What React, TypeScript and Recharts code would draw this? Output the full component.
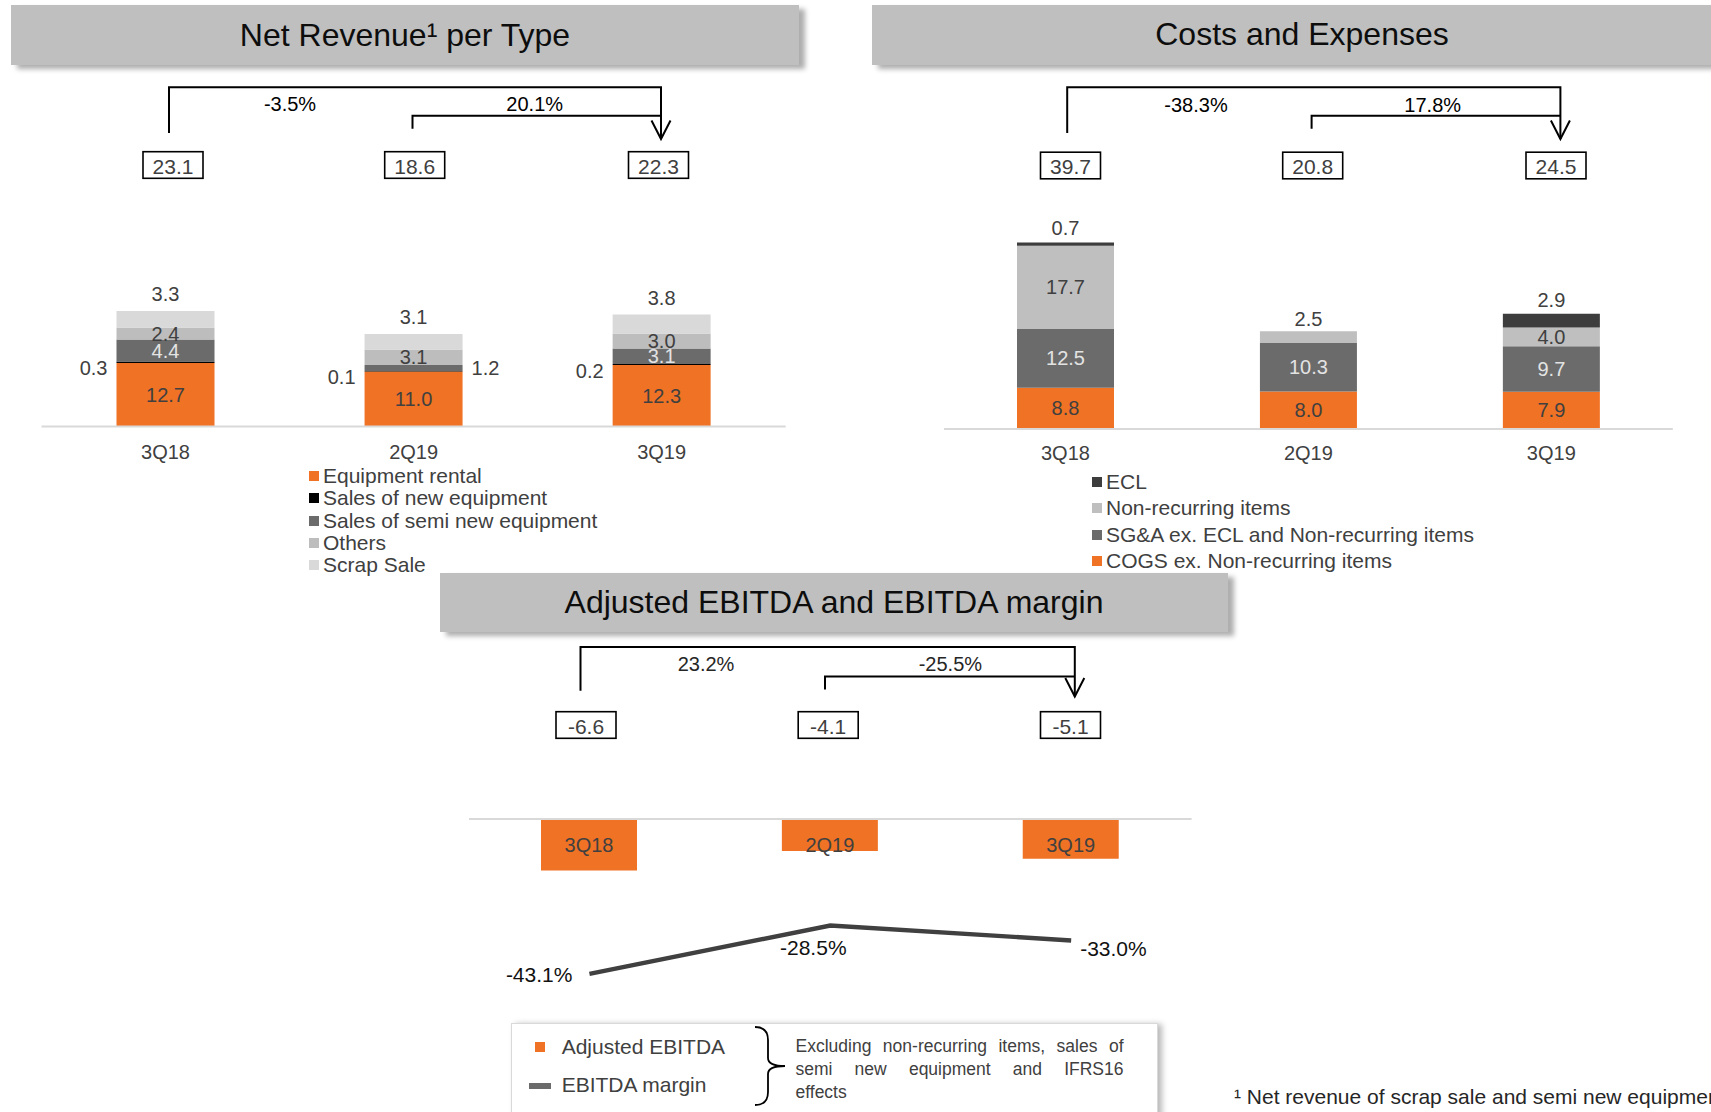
import React from 'react';
import { BarChart, Bar, XAxis, YAxis, LabelList, ComposedChart, Line, ReferenceLine } from 'recharts';

const FONT = '"Liberation Sans", Arial, sans-serif';
const TEXT = '#404040';
const LIGHT_TEXT = '#e3e3e3';
const ORANGE = '#F07224';

const quarters = ['3Q18', '2Q19', '3Q19'];

// Net revenue per type (R$ mn)
const equipmentRental = [12.7, 11.0, 12.3];
const newEquipmentSales = [0.3, 0.1, 0.2];
const semiNewSales = [4.4, 1.2, 3.1];
const otherRevenue = [2.4, 3.1, 3.0];
const scrapSales = [3.3, 3.1, 3.8];
const revenueTotals = [23.1, 18.6, 22.3];
const revenueChanges = ['-3.5%', '20.1%'];

// Costs and expenses (R$ mn)
const cogsExNonRecurring = [8.8, 8.0, 7.9];
const sgaExEclNonRecurring = [12.5, 10.3, 9.7];
const nonRecurringItems = [17.7, 2.5, 4.0];
const eclCosts = [0.7, 0, 2.9];
const costTotals = [39.7, 20.8, 24.5];
const costChanges = ['-38.3%', '17.8%'];

// Adjusted EBITDA (R$ mn) and EBITDA margin (%)
const adjustedEbitda = [-6.6, -4.1, -5.1];
const ebitdaMargin = [-43.1, -28.5, -33.0];
const ebitdaChanges = ['23.2%', '-25.5%'];

const ebitdaNote = ['Excluding non-recurring items, sales of', 'semi new equipment and IFRS16', 'effects'];

const revenueRows = quarters.map((quarter, i) => ({
  quarter,
  rental: equipmentRental[i],
  newEq: newEquipmentSales[i],
  semiNew: semiNewSales[i],
  others: otherRevenue[i],
  scrap: scrapSales[i],
}));

const costRows = quarters.map((quarter, i) => ({
  quarter,
  cogs: cogsExNonRecurring[i],
  sga: sgaExEclNonRecurring[i],
  nonRec: nonRecurringItems[i],
  ecl: eclCosts[i],
}));

const ebitdaRows = quarters.map((quarter, i) => ({
  quarter,
  ebitda: adjustedEbitda[i],
  margin: ebitdaMargin[i],
}));

const revenueLegend = [
  { name: 'Equipment rental', color: ORANGE },
  { name: 'Sales of new equipment', color: '#000000' },
  { name: 'Sales of semi new equipment', color: '#6b6b6b' },
  { name: 'Others', color: '#bdbdbd' },
  { name: 'Scrap Sale', color: '#d9d9d9' },
];

const costLegend = [
  { name: 'ECL', color: '#3d3d3d' },
  { name: 'Non-recurring items', color: '#bfbfbf' },
  { name: 'SG&A ex. ECL and Non-recurring items', color: '#6b6b6b' },
  { name: 'COGS ex. Non-recurring items', color: ORANGE },
];

// label lists are keyed on "quarter", so the label value tells which row it is
// (zero-height bars get dropped, which shifts the plain index)
const rowIndex = (p: any) => {
  if (typeof p.value === 'string' && quarters.includes(p.value)) return quarters.indexOf(p.value);
  const q = p.payload?.quarter;
  return q !== undefined ? quarters.indexOf(q) : p.index;
};

// rectangle of a bar segment, whichever way recharts hands it over
const segmentBox = (p: any) => {
  const vb = p.viewBox && typeof p.viewBox.width === 'number' ? p.viewBox : p;
  const x = Number(vb.x);
  const y = Number(vb.y);
  const w = Number(vb.width);
  const h = Number(vb.height);
  return { x, w, top: Math.min(y, y + h), h: Math.abs(h) };
};

const Txt = ({ x, y, fill = TEXT, anchor = 'middle', size = 20, children }: any) => (
  <text
    x={x}
    y={y}
    textAnchor={anchor}
    dominantBaseline="central"
    fontSize={size}
    fontFamily={FONT}
    fill={fill}
  >
    {children}
  </text>
);

type Place = 'inside' | 'left' | 'above' | 'insideOrRight' | 'insideOrAbove';

// stacked labels show the segment's own value, not the running stack total
const stackLabel = (values: number[], place: Place, insideFill: string, aboveGap: number) => (p: any) => {
  const v = values[rowIndex(p)];
  if (!v) return null;
  const b = segmentBox(p);
  const cx = b.x + b.w / 2;
  const cy = b.top + b.h / 2;
  const s = v.toFixed(1);
  if (place === 'left') return <Txt x={b.x - 9} y={cy + 6} anchor="end">{s}</Txt>;
  if (place === 'above') return <Txt x={cx} y={b.top - aboveGap}>{s}</Txt>;
  if (place === 'insideOrRight' && b.h < 15)
    return <Txt x={b.x + b.w + 9} y={cy} anchor="start">{s}</Txt>;
  if (place === 'insideOrAbove' && b.h < 15) return <Txt x={cx} y={b.top - aboveGap}>{s}</Txt>;
  return <Txt x={cx} y={cy} fill={insideFill}>{s}</Txt>;
};

const marginLabelOffsets = [
  { dx: -17, dy: 1, anchor: 'end' },
  { dx: -17, dy: 22, anchor: 'middle' },
  { dx: 9, dy: 8, anchor: 'start' },
];

const marginLabel = (p: any) => {
  const vb = p.viewBox && typeof p.viewBox.x === 'number' ? p.viewBox : p;
  const i = rowIndex(p);
  const o = marginLabelOffsets[i] ?? marginLabelOffsets[0];
  return (
    <Txt x={Number(vb.x) + o.dx} y={Number(vb.y) + o.dy} anchor={o.anchor} size={21} fill="#111">
      {`${ebitdaMargin[i].toFixed(1)}%`}
    </Txt>
  );
};

const quarterInBar = (p: any) => {
  const b = segmentBox(p);
  return <Txt x={b.x + b.w / 2} y={b.top + 25.5} size={20}>{quarters[rowIndex(p)]}</Txt>;
};

function TitleBar({ left, top, width, height, text }: any) {
  return (
    <div
      style={{
        position: 'absolute',
        left,
        top,
        width,
        height,
        background: '#bfbfbf',
        boxShadow: '6px 4px 5px rgba(0,0,0,0.32)',
        display: 'flex',
        alignItems: 'center',
        justifyContent: 'center',
        fontSize: 32,
        color: '#0d0d0d',
      }}
    >
      {text}
    </div>
  );
}

function LegendList({ items, left, top, step, marker }: any) {
  return (
    <div style={{ position: 'absolute', left, top }}>
      {items.map((it: any) => (
        <div
          key={it.name}
          style={{ height: step, display: 'flex', alignItems: 'center', fontSize: 21, color: TEXT, whiteSpace: 'nowrap' }}
        >
          <span style={{ width: marker, height: marker, background: it.color, marginRight: 4, flex: 'none' }} />
          {it.name}
        </div>
      ))}
    </div>
  );
}

// period-over-period bracket with arrow, change labels and boxed totals
function ChangeBracket({ xs, boxXs, topY, innerY, startEndY, midEndY, tipY, labelXs, labelY, labelFill, changes, totals, boxY }: any) {
  const [x0, x1, x2] = xs;
  return (
    <g>
      <polyline points={`${x0},${startEndY} ${x0},${topY} ${x2},${topY} ${x2},${tipY}`} fill="none" stroke="#000" strokeWidth={2} />
      <polyline points={`${x1},${midEndY} ${x1},${innerY} ${x2},${innerY}`} fill="none" stroke="#000" strokeWidth={2} />
      <polyline points={`${x2 - 9.5},${tipY - 18.5} ${x2},${tipY} ${x2 + 9.5},${tipY - 18.5}`} fill="none" stroke="#000" strokeWidth={2} />
      {changes.map((c: string, i: number) => (
        <Txt key={c} x={labelXs[i]} y={labelY} fill={labelFill} size={20}>{c}</Txt>
      ))}
      {totals.map((t: number, i: number) => (
        <g key={i}>
          <rect x={boxXs[i] - 30} y={boxY - 13.3} width={60} height={26.6} fill="#fff" stroke="#000" strokeWidth={1.6} />
          <Txt x={boxXs[i]} y={boxY + 1} size={21}>{t.toFixed(1)}</Txt>
        </g>
      ))}
    </g>
  );
}

const tickStyle = { fill: TEXT, fontSize: 20, fontFamily: FONT };

export default function App() {
  return (
    <div
      style={{
        position: 'absolute',
        left: 0,
        top: 0,
        width: 1711,
        height: 1112,
        overflow: 'hidden',
        background: '#fff',
        fontFamily: FONT,
      }}
    >
      <TitleBar left={11} top={5} width={788} height={60} text="Net Revenue¹ per Type" />
      <TitleBar left={872} top={4.5} width={860} height={60.5} text="Costs and Expenses" />

      {/* Net revenue per type */}
      <div style={{ position: 'absolute', left: 0, top: 260 }}>
        <BarChart
          width={830}
          height={230}
          data={revenueRows}
          barSize={98}
          margin={{ top: 16.5, right: 44.3, bottom: 23.5, left: 41.5 }}
        >
          <XAxis
            dataKey="quarter"
            height={40}
            tickLine={false}
            tickSize={0}
            tickMargin={18}
            tick={tickStyle}
            axisLine={{ stroke: '#d9d9d9', strokeWidth: 2 }}
          />
          <YAxis hide domain={[0, 30]} allowDataOverflow />
          <Bar dataKey="rental" stackId="a" fill={ORANGE} isAnimationActive={false}>
            <LabelList dataKey="quarter" content={stackLabel(equipmentRental, 'inside', TEXT, 0)} />
          </Bar>
          <Bar dataKey="newEq" stackId="a" fill="#000" isAnimationActive={false}>
            <LabelList dataKey="quarter" content={stackLabel(newEquipmentSales, 'left', TEXT, 0)} />
          </Bar>
          <Bar dataKey="semiNew" stackId="a" fill="#6b6b6b" isAnimationActive={false}>
            <LabelList dataKey="quarter" content={stackLabel(semiNewSales, 'insideOrRight', LIGHT_TEXT, 0)} />
          </Bar>
          <Bar dataKey="others" stackId="a" fill="#bdbdbd" isAnimationActive={false}>
            <LabelList dataKey="quarter" content={stackLabel(otherRevenue, 'inside', TEXT, 0)} />
          </Bar>
          <Bar dataKey="scrap" stackId="a" fill="#d9d9d9" isAnimationActive={false}>
            <LabelList dataKey="quarter" content={stackLabel(scrapSales, 'above', TEXT, 17)} />
          </Bar>
        </BarChart>
      </div>
      <LegendList items={revenueLegend} left={309} top={464.6} step={22.4} marker={10} />

      {/* Costs and expenses */}
      <div style={{ position: 'absolute', left: 900, top: 200 }}>
        <BarChart
          width={800}
          height={290}
          data={costRows}
          barSize={97}
          margin={{ top: 17.5, right: 27.2, bottom: 21, left: 44 }}
        >
          <XAxis
            dataKey="quarter"
            height={40}
            tickLine={false}
            tickSize={0}
            tickMargin={17}
            tick={tickStyle}
            axisLine={{ stroke: '#d9d9d9', strokeWidth: 2 }}
          />
          <YAxis hide domain={[0, 45]} allowDataOverflow />
          <Bar dataKey="cogs" stackId="c" fill={ORANGE} isAnimationActive={false}>
            <LabelList dataKey="quarter" content={stackLabel(cogsExNonRecurring, 'inside', TEXT, 0)} />
          </Bar>
          <Bar dataKey="sga" stackId="c" fill="#6b6b6b" isAnimationActive={false}>
            <LabelList dataKey="quarter" content={stackLabel(sgaExEclNonRecurring, 'inside', LIGHT_TEXT, 0)} />
          </Bar>
          <Bar dataKey="nonRec" stackId="c" fill="#bfbfbf" isAnimationActive={false}>
            <LabelList dataKey="quarter" content={stackLabel(nonRecurringItems, 'insideOrAbove', TEXT, 12)} />
          </Bar>
          <Bar dataKey="ecl" stackId="c" fill="#3d3d3d" isAnimationActive={false}>
            <LabelList dataKey="quarter" content={stackLabel(eclCosts, 'above', TEXT, 14)} />
          </Bar>
        </BarChart>
      </div>
      <LegendList items={costLegend} left={1092} top={469.2} step={26.2} marker={10} />

      <TitleBar left={440} top={572.5} width={788} height={59.5} text="Adjusted EBITDA and EBITDA margin" />

      {/* Adjusted EBITDA and margin */}
      <div style={{ position: 'absolute', left: 440, top: 770 }}>
        <ComposedChart
          width={800}
          height={250}
          data={ebitdaRows}
          barSize={96}
          margin={{ top: 17.8, right: 48.4, bottom: 13.8, left: 29 }}
        >
          <XAxis dataKey="quarter" hide />
          <YAxis yAxisId="bar" hide domain={[-24, 4]} allowDataOverflow />
          <YAxis yAxisId="pct" orientation="right" hide domain={[-52.9, 13.2]} allowDataOverflow />
          <Bar yAxisId="bar" dataKey="ebitda" fill={ORANGE} isAnimationActive={false}>
            <LabelList dataKey="quarter" content={quarterInBar} />
          </Bar>
          <ReferenceLine yAxisId="bar" y={0} stroke="#d9d9d9" strokeWidth={2} />
          <Line
            yAxisId="pct"
            type="linear"
            dataKey="margin"
            stroke="#404040"
            strokeWidth={4.4}
            dot={false}
            activeDot={false}
            isAnimationActive={false}
          >
            <LabelList dataKey="quarter" content={marginLabel} />
          </Line>
        </ComposedChart>
      </div>

      {/* brackets and totals */}
      <svg
        width={1711}
        height={1112}
        style={{ position: 'absolute', left: 0, top: 0, pointerEvents: 'none' }}
      >
        <ChangeBracket
          xs={[169, 412.5, 661]}
          boxXs={[173, 414.7, 658.5]}
          topY={87.3}
          innerY={115.7}
          startEndY={133}
          midEndY={128.8}
          tipY={139}
          labelXs={[290, 534.7]}
          labelY={103.7}
          labelFill="#000"
          changes={revenueChanges}
          totals={revenueTotals}
          boxY={165}
        />
        <ChangeBracket
          xs={[1067.2, 1311.6, 1560.4]}
          boxXs={[1070.5, 1312.7, 1556]}
          topY={87.3}
          innerY={115.7}
          startEndY={133}
          midEndY={128.8}
          tipY={139}
          labelXs={[1196, 1432.7]}
          labelY={104.5}
          labelFill="#000"
          changes={costChanges}
          totals={costTotals}
          boxY={165.5}
        />
        <ChangeBracket
          xs={[580.5, 825, 1074.8]}
          boxXs={[586, 828.2, 1070.5]}
          topY={647.1}
          innerY={676.5}
          startEndY={690.7}
          midEndY={689.6}
          tipY={696.5}
          labelXs={[706, 950.4]}
          labelY={663.5}
          labelFill="#262626"
          changes={ebitdaChanges}
          totals={adjustedEbitda}
          boxY={725}
        />
      </svg>

      {/* EBITDA legend box */}
      <div
        style={{
          position: 'absolute',
          left: 511,
          top: 1022.5,
          width: 645,
          height: 110,
          border: '1px solid #d9d9d9',
          boxShadow: '4px 1px 6px rgba(0,0,0,0.28)',
          background: '#fff',
        }}
      />
      <div style={{ position: 'absolute', left: 535, top: 1041.7, width: 10, height: 10, background: ORANGE }} />
      <div style={{ position: 'absolute', left: 561.7, top: 1033.7, height: 26, lineHeight: '26px', fontSize: 21, color: TEXT, whiteSpace: 'nowrap' }}>
        Adjusted EBITDA
      </div>
      <div style={{ position: 'absolute', left: 529, top: 1083, width: 22, height: 6, background: '#6b6b6b' }} />
      <div style={{ position: 'absolute', left: 561.7, top: 1072, height: 26, lineHeight: '26px', fontSize: 21, color: TEXT, whiteSpace: 'nowrap' }}>
        EBITDA margin
      </div>
      <svg width={40} height={90} style={{ position: 'absolute', left: 750, top: 1022 }}>
        <path
          d="M5,5 Q18,5 18,18 L18,36 Q18,44 35,44 Q18,44 18,52 L18,70 Q18,83 5,83"
          fill="none"
          stroke="#000"
          strokeWidth={1.8}
        />
      </svg>
      <div style={{ position: 'absolute', left: 795.5, top: 1035, width: 328, fontSize: 17.5, lineHeight: '22.9px', color: TEXT }}>
        {ebitdaNote.map((line, i) => (
          <div
            key={i}
            style={{
              whiteSpace: 'nowrap',
              textAlign: i < ebitdaNote.length - 1 ? 'justify' : 'left',
              textAlignLast: i < ebitdaNote.length - 1 ? 'justify' : 'left',
            }}
          >
            {line}
          </div>
        ))}
      </div>

      <div
        style={{
          position: 'absolute',
          left: 1234,
          top: 1083.5,
          fontSize: 21,
          lineHeight: '26px',
          color: '#262626',
          whiteSpace: 'nowrap',
        }}
      >
        ¹ Net revenue of scrap sale and semi new equipment
      </div>
    </div>
  );
}
